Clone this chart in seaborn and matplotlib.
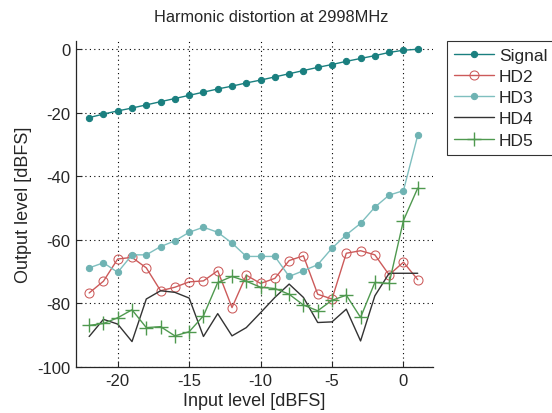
import matplotlib
matplotlib.use("Agg")
import matplotlib.pyplot as plt
import seaborn as sns

# input level [dBFS]
input_level = [-22, -21, -20, -19, -18, -17, -16, -15, -14, -13, -12, -11,
               -10, -9, -8, -7, -6, -5, -4, -3, -2, -1, 0, 1]

signal = [-21.5, -20.4, -19.4, -18.5, -17.5, -16.5, -15.5, -14.5, -13.5, -12.5,
          -11.6, -10.6, -9.7, -8.7, -7.7, -6.7, -5.7, -4.8, -3.8, -2.9, -2.0,
          -1.0, -0.3, 0.0]
hd2 = [-76.7, -73.0, -66.0, -65.5, -68.8, -76.0, -74.9, -73.2, -72.9, -69.7,
       -81.3, -71.1, -73.7, -72.1, -66.5, -65.0, -77.1, -78.6, -64.2, -63.4,
       -64.7, -71.0, -67.0, -72.5]
hd3 = [-68.8, -67.2, -70.2, -64.7, -64.7, -62.1, -60.3, -57.6, -56.0, -57.6,
       -61.0, -65.2, -65.2, -65.2, -71.5, -69.7, -67.8, -62.6, -58.4, -54.8,
       -49.7, -45.9, -44.5, -27.1]
hd4 = [-90.4, -85.0, -86.5, -92.0, -78.6, -76.0, -76.5, -78.3, -90.4, -83.2,
       -90.2, -87.6, -82.9, -78.1, -73.9, -78.1, -86.0, -85.8, -81.8, -91.8,
       -77.6, -70.5, -70.5, -70.5]
hd5 = [-86.9, -86.3, -84.5, -82.0, -87.6, -87.3, -90.2, -88.9, -83.9, -73.4,
       -71.5, -73.0, -74.9, -75.3, -77.1, -80.5, -82.3, -79.0, -77.4, -84.4,
       -73.4, -73.7, -53.9, -43.7]

series_names = ["Signal", "HD2", "HD3", "HD4", "HD5"]
x_ticks = [-20, -15, -10, -5, 0]
y_ticks = [-100, -80, -60, -40, -20, 0]

sns.set_style("ticks")
plt.rcParams["font.family"] = ["Liberation Sans", "DejaVu Sans"]
plt.rcParams["axes.unicode_minus"] = False
plt.rcParams["xtick.direction"] = "in"
plt.rcParams["ytick.direction"] = "in"

fig = plt.figure(figsize=(5.52, 4.14), dpi=100)
ax = fig.add_axes([0.1377, 0.1111, 0.6462, 0.7882])

styles = {
    "Signal": dict(color="#1a7f7f", marker="o", markersize=4.5, mfc="#1a7f7f", mec="#1a7f7f"),
    "HD2": dict(color="#cc5a5a", marker="o", markersize=6.5, mfc="none", mec="#cc5a5a"),
    "HD3": dict(color="#7fbfbf", marker="o", markersize=4.5, mfc="#6fb3b3", mec="#6fb3b3"),
    "HD4": dict(color="#333333", marker=None),
    "HD5": dict(color="#4f994f", marker="+", markersize=10, mec="#4f994f", mew=1.0),
}
values = dict(zip(series_names, [signal, hd2, hd3, hd4, hd5]))

for name in series_names:
    sns.lineplot(x=input_level, y=values[name], ax=ax, label=name,
                 linewidth=1.0, **styles[name])

ax.set_xlim(-22.92, 2.05)
ax.set_ylim(-100, 2.7)
ax.set_xticks(x_ticks)
ax.set_yticks(y_ticks)
ax.tick_params(labelsize=12, length=4, width=0.8, pad=4)
ax.grid(True, linestyle=(0, (1, 3)), color="black", linewidth=0.8)
sns.despine(ax=ax)
for s in ["left", "bottom"]:
    ax.spines[s].set_linewidth(0.9)

ax.set_title("Harmonic distortion at 2998MHz", fontsize=11.8, pad=14, x=0.547)
ax.set_xlabel("Input level [dBFS]", fontsize=13, labelpad=3)
ax.set_ylabel("Output level [dBFS]", fontsize=13, labelpad=4)

leg = ax.legend(loc="upper left", bbox_to_anchor=(1.04, 1.0), fontsize=12.5,
                frameon=True, fancybox=False, handlelength=2.3,
                borderaxespad=0.0, labelspacing=0.35, handletextpad=0.3)
leg.get_frame().set_edgecolor("black")
leg.get_frame().set_linewidth(0.8)

fig.savefig("out.png", dpi=100)
